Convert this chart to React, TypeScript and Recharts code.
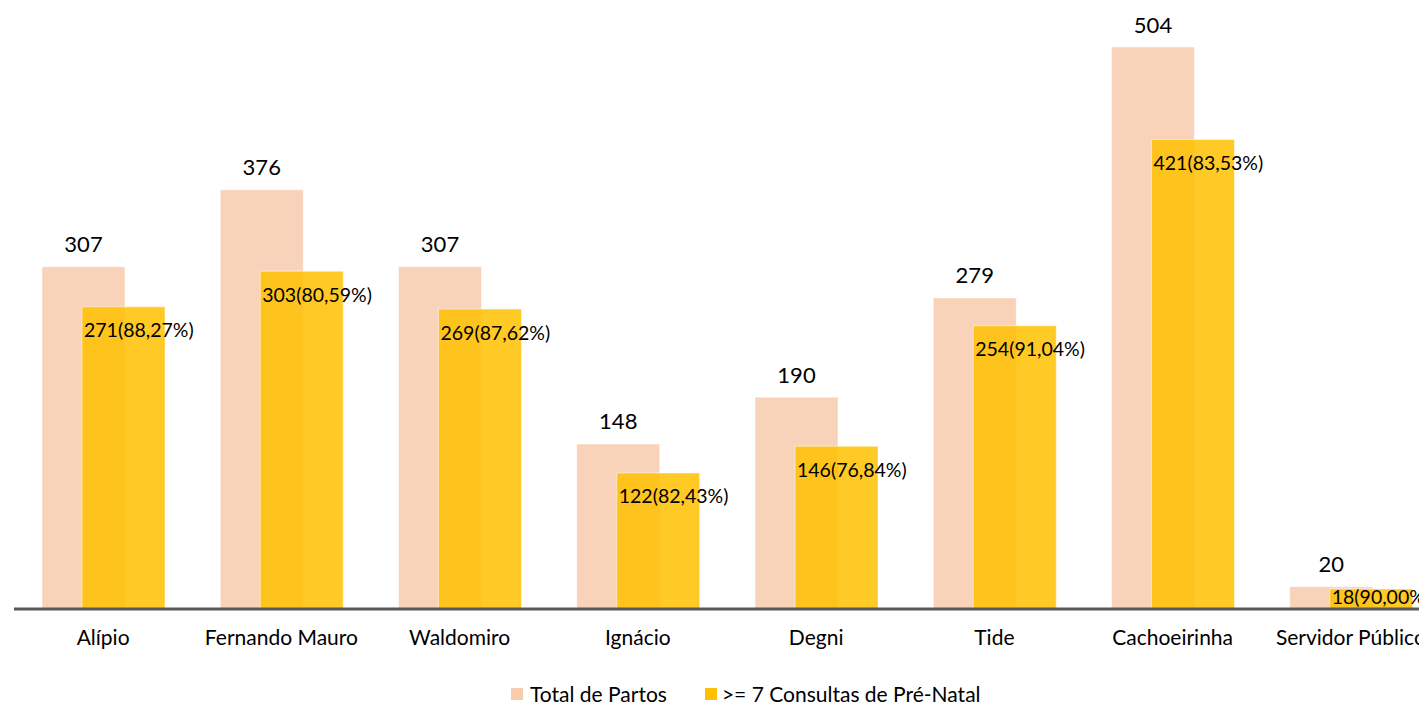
import React from 'react';
import { BarChart, Bar, XAxis, YAxis, LabelList, Legend } from 'recharts';

const categories = ['Alípio', 'Fernando Mauro', 'Waldomiro', 'Ignácio', 'Degni', 'Tide', 'Cachoeirinha', 'Servidor Público'];
const totalPartos = [307, 376, 307, 148, 190, 279, 504, 20];
const consultas = [271, 303, 269, 122, 146, 254, 421, 18];
const percentuais = ['88,27', '80,59', '87,62', '82,43', '76,84', '91,04', '83,53', '90,00'];

const PEACH = '#F8CBAD';
const YELLOW = '#FFC000';
const FONT = 'Lato, "Noto Sans", sans-serif';

const chartData = categories.map((name, i) => ({
  name,
  total: totalPartos[i],
  consultas: consultas[i],
  label: `${consultas[i]}(${percentuais[i]}%)`
}));

const TotalLabel = (props: any) => {
  const { x, y, width, value } = props;
  return (
    <text x={x + width / 2} y={y - 23} textAnchor="middle" dominantBaseline="central" fontSize={22} fill="#000" fontFamily={FONT}>
      {value}
    </text>
  );
};

const ConsultasLabel = (props: any) => {
  const { x, y, height, value } = props;
  // keep the label inside short bars (like the last one)
  const cy = Math.min(y + 23, y + height - 13);
  return (
    <text x={x + 2} y={cy} textAnchor="start" dominantBaseline="central" fontSize={19.5} fill="#000" fontFamily={FONT}>
      {value}
    </text>
  );
};

const renderLegend = () => (
  <div style={{ display: 'flex', alignItems: 'center', fontFamily: FONT, fontSize: 21, color: '#000' }}>
    <span style={{ width: 12, height: 12, background: PEACH, display: 'inline-block', marginRight: 7 }} />
    <span style={{ marginRight: 38 }}>Total de Partos</span>
    <span style={{ width: 12, height: 12, background: YELLOW, display: 'inline-block', marginRight: 5 }} />
    <span>&gt;= 7 Consultas de Pré-Natal</span>
  </div>
);

export default function App() {
  return (
    <div style={{ position: 'absolute', left: 0, top: 0, width: 1419, height: 705, overflow: 'hidden', background: '#fff' }}>
      <BarChart
        width={1440}
        height={705}
        data={chartData}
        margin={{ top: 47, right: 0, left: 14, bottom: 56 }}
        barSize={83}
        barGap={-43}
      >
        <XAxis
          dataKey="name"
          axisLine={{ stroke: '#595959', strokeWidth: 3 }}
          tickLine={false}
          tickMargin={15}
          height={40}
          interval={0}
          tick={{ fill: '#000', fontSize: 21, fontFamily: FONT }}
        />
        <YAxis hide domain={[0, 504]} />
        <Legend
          layout="horizontal"
          verticalAlign="middle"
          align="center"
          content={renderLegend}
          wrapperStyle={{ top: 681, left: 511, width: 'auto' }}
        />
        <Bar dataKey="total" fill={PEACH} fillOpacity={0.85} stroke="#fff" strokeOpacity={0.5} strokeWidth={1} isAnimationActive={false}>
          <LabelList dataKey="total" content={TotalLabel} />
        </Bar>
        <Bar dataKey="consultas" fill={YELLOW} fillOpacity={0.85} stroke="#fff" strokeOpacity={0.5} strokeWidth={1} isAnimationActive={false}>
          <LabelList dataKey="label" content={ConsultasLabel} />
        </Bar>
      </BarChart>
    </div>
  );
}
